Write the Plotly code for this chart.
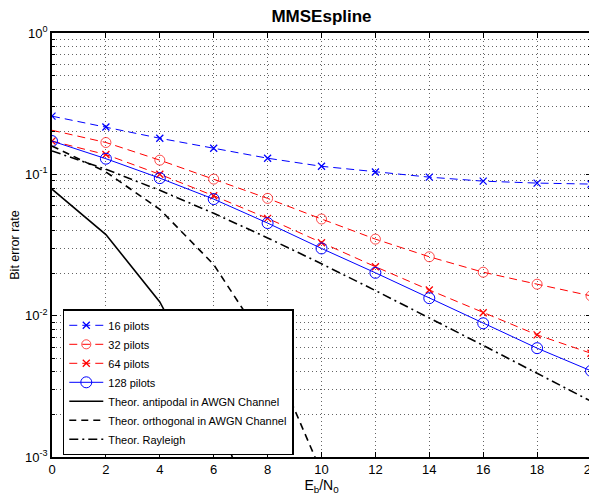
import plotly.graph_objects as go

ebn0 = [0, 2, 4, 6, 8, 10, 12, 14, 16, 18, 20]

ber_16 = [0.258, 0.216, 0.180, 0.153, 0.130, 0.114, 0.104, 0.0955, 0.0895, 0.0867, 0.0853]
ber_32 = [0.205, 0.168, 0.126, 0.0925, 0.0676, 0.0483, 0.0348, 0.0261, 0.0203, 0.0167, 0.0138]
ber_64 = [0.172, 0.138, 0.100, 0.0705, 0.0488, 0.0328, 0.0222, 0.0152, 0.0105, 0.00731, 0.00542]
ber_128 = [0.172, 0.129, 0.094, 0.0668, 0.0452, 0.0299, 0.0201, 0.0133, 0.00883, 0.00589, 0.00407]

ber_antipodal = [0.0786, 0.0375, 0.0125, 0.00239, 0.00019, 0.0000039, 1e-8, 1e-12, 1e-16, 1e-20, 1e-24]
ber_orthogonal = [0.1587, 0.104, 0.0565, 0.0230, 0.00601, 0.00078, 0.000034, 1e-7, 1e-10, 1e-13, 1e-16]
ber_rayleigh = [0.1464, 0.1085, 0.0771, 0.0530, 0.0355, 0.0233, 0.01505, 0.00967, 0.00616, 0.00391, 0.00248]

x_ticks = [0, 2, 4, 6, 8, 10, 12, 14, 16, 18, 20]
y_tickvals = [1e-3, 1e-2, 1e-1, 1]
y_ticktext = ["10<sup>-3</sup>", "10<sup>-2</sup>", "10<sup>-1</sup>", "10<sup>0</sup>"]
y_minor_vals = [m * 10.0 ** e for e in (-3, -2, -1) for m in range(2, 10)]

BLUE = "rgb(0,0,255)"
RED = "rgb(255,0,0)"
GRID = "rgb(100,100,100)"
GRIDDASH = "1px,3px"

fig = go.Figure()

fig.add_trace(go.Scatter(
    x=ebn0, y=ber_16, name="16 pilots", mode="lines+markers",
    line=dict(color=BLUE, width=1, dash="8px,5px"),
    marker=dict(symbol="x-thin-open", size=7, line=dict(color=BLUE, width=1.3))))

sizes_32 = [0] + [10] * (len(ebn0) - 1)
fig.add_trace(go.Scatter(
    x=ebn0, y=ber_32, name="32 pilots", mode="lines+markers",
    line=dict(color=RED, width=1, dash="8px,5px"),
    marker=dict(symbol="circle-open", size=sizes_32, color=RED, line=dict(color=RED, width=1))))

fig.add_trace(go.Scatter(
    x=ebn0, y=ber_64, name="64 pilots", mode="lines+markers",
    line=dict(color=RED, width=1, dash="8px,5px"),
    marker=dict(symbol="x-thin-open", size=7, line=dict(color=RED, width=1.3))))

fig.add_trace(go.Scatter(
    x=ebn0, y=ber_128, name="128 pilots", mode="lines+markers",
    line=dict(color=BLUE, width=1),
    marker=dict(symbol="circle-open", size=11, color=BLUE, line=dict(color=BLUE, width=1))))

fig.add_trace(go.Scatter(
    x=ebn0, y=ber_antipodal, name="Theor. antipodal in AWGN Channel", mode="lines",
    line=dict(color="black", width=1.6)))

fig.add_trace(go.Scatter(
    x=ebn0, y=ber_orthogonal, name="Theor. orthogonal in AWGN Channel", mode="lines",
    line=dict(color="black", width=1.6, dash="7px,5px")))

fig.add_trace(go.Scatter(
    x=ebn0, y=ber_rayleigh, name="Theor. Rayleigh", mode="lines",
    line=dict(color="black", width=1.6, dash="9px,4px,2px,4px")))

FONT = "Liberation Sans, Arial, Helvetica, sans-serif"

# The page adds an 8px body margin, so the figure is sized to fit the window.
fig.update_layout(
    width=589, height=489,
    margin=dict(l=44, r=6, t=25, b=40),
    paper_bgcolor="white", plot_bgcolor="white",
    font=dict(family=FONT, size=12, color="black"),
    title=dict(text="<b>MMSEspline</b>", x=0.5, xref="paper", y=1 - 8 / 489, yref="container",
               xanchor="center", yanchor="middle", font=dict(size=17, family=FONT)),
    showlegend=True,
    legend=dict(x=0.02, y=0.004, xanchor="left", yanchor="bottom",
                bgcolor="white", bordercolor="black", borderwidth=1.5,
                font=dict(size=11, family=FONT), itemwidth=34,
                tracegroupgap=0, traceorder="normal"),
)

fig.update_xaxes(
    range=[0, 20], tickvals=x_ticks, ticks="inside", ticklen=5, tickcolor="black",
    showline=True, linecolor="black", linewidth=1.5, mirror="ticks",
    showgrid=True, gridcolor=GRID, griddash=GRIDDASH, gridwidth=1,
    zeroline=False, tickfont=dict(size=13), automargin=False,
    ticklabeloverflow="allow",
    title=dict(text="E<sub>b</sub>/N<sub>0</sub>", standoff=4, font=dict(size=14)),
)

fig.update_yaxes(
    type="log", range=[-3, 0], tickvals=y_tickvals, ticktext=y_ticktext,
    ticks="inside", ticklen=5, tickcolor="black",
    showline=True, linecolor="black", linewidth=1.5, mirror="ticks",
    showgrid=True, gridcolor=GRID, griddash=GRIDDASH, gridwidth=1,
    zeroline=False, tickfont=dict(size=13), automargin=False,
    ticklabeloverflow="allow",
    minor=dict(tickvals=y_minor_vals, ticks="inside", ticklen=3, showgrid=True,
               gridcolor=GRID, griddash=GRIDDASH, gridwidth=1, tickcolor="black"),
    title=dict(text="Bit error rate", standoff=8, font=dict(size=12.5)),
)

fig.write_html("out.html")
